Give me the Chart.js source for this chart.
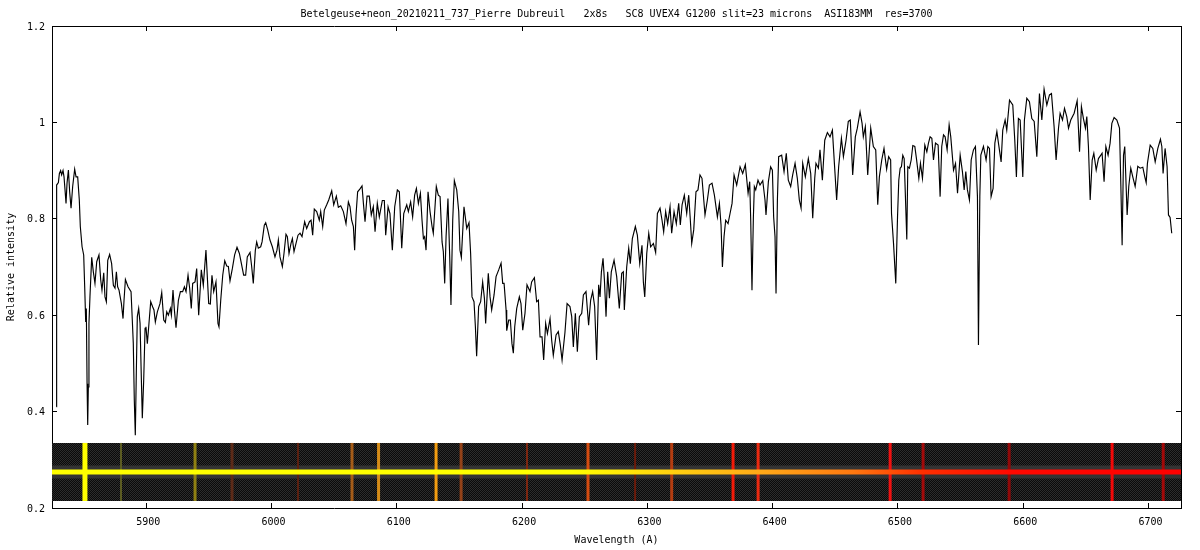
<!DOCTYPE html>
<html>
<head>
<meta charset="utf-8">
<style>html,body{margin:0;padding:0;background:#fff}canvas{display:block}</style>
<script src="https://cdn.jsdelivr.net/npm/chart.js@4/dist/chart.umd.min.js"></script>
</head>
<body>
<canvas id="c" width="1200" height="550"></canvas>
<script>
const titleText = "Betelgeuse+neon_20210211_737_Pierre Dubreuil   2x8s   SC8 UVEX4 G1200 slit=23 microns  ASI183MM  res=3700";
const xTitle = "Wavelength (A)";
const yTitle = "Relative intensity";
const xTickValues = [5900,6000,6100,6200,6300,6400,6500,6600,6700];
const yTickValues = [0.2,0.4,0.6,0.8,1,1.2];
const xRange = [5824.7,6726];
const yRange = [0.2,1.2];

const wavelength = [
5828.2,5828.4,5829.8,5830.6,5831.6,5832.4,5833.5,5834.3,5835.1,5835.9,5836.7,5837.8,5838.8,5839.9,5841.2,5842.8,5843.9,5845.2,5846.5,5847.3,
5848.7,5850.0,5850.8,5851.6,5852.1,5852.7,5853.2,5853.7,5854.2,5855.0,5856.4,5857.7,5859.0,5860.4,5862.2,5863.6,5864.6,5866.0,5867.0,5868.1,
5869.2,5870.7,5872.3,5873.7,5875.0,5876.1,5877.1,5878.2,5880.1,5881.4,5882.2,5883.3,5885.4,5887.8,5888.8,5889.6,5890.4,5891.2,5892.0,5892.8,
5893.9,5895.0,5895.8,5896.8,5897.9,5899.0,5899.7,5900.8,5901.9,5903.5,5905.1,5906.1,5907.2,5908.8,5910.9,5912.3,5913.9,5915.2,5916.3,5917.6,
5919.2,5920.0,5921.3,5922.4,5923.7,5925.6,5927.2,5929.0,5930.4,5931.7,5933.3,5934.6,5935.9,5937.0,5938.9,5940.2,5941.8,5943.9,5945.5,5947.6,
5949.8,5951.1,5952.4,5953.8,5955.6,5957.2,5958.0,5959.4,5961.0,5962.6,5964.2,5965.5,5966.8,5968.7,5970.5,5972.4,5974.3,5975.9,5977.7,5979.3,
5980.6,5982.8,5984.1,5985.4,5987.0,5988.1,5989.4,5991.3,5992.4,5994.2,5995.3,5996.9,5998.7,6000.6,6002.7,6004.3,6005.4,6006.7,6008.6,6009.9,
6011.5,6012.6,6013.9,6015.5,6016.6,6017.9,6019.5,6021.1,6022.7,
6024.3,6026.4,6028.0,6030.2,6031.5,6032.8,6034.1,6036.0,6038.1,6039.2,6040.8,6042.1,6044.0,6045.6,6048.0,6049.6,6051.7,6053.3,6055.2,6057.3,
6059.4,6061.3,6062.6,6063.9,6065.3,6066.3,6067.4,6068.7,6070.6,6072.2,6073.3,6074.6,6076.2,6078.0,6079.6,6081.2,6082.6,6084.4,6086.0,6088.4,
6090.0,6091.1,6093.0,6094.5,6096.4,6098.3,6100.4,6102.0,6103.9,6105.5,6107.9,6109.2,6111.0,6112.6,6114.2,6115.6,6117.2,6118.8,6120.1,6121.2,
6122.2,6123.3,6124.9,6126.5,6128.1,6129.1,6131.5,6133.1,6134.5,6136.1,6137.1,6138.2,6139.3,6140.8,6142.2,6143.2,6144.6,6145.9,6147.8,6149.4,
6150.4,6151.5,6153.6,6155.8,6157.6,6158.9,6160.0,6161.6,6162.7,6163.7,6165.3,6166.9,6168.5,6169.9,6170.9,6173.0,6174.4,6175.7,6177.6,6179.2,
6181.3,6183.2,6184.5,6185.6,6187.2,6187.7,6189.3,6190.6,6191.9,6193.0,6194.1,6195.7,6197.8,6199.1,6200.5,6202.3,6203.9,6206.3,6207.6,6209.8,
6211.6,6213.0,6214.3,6215.9,6217.2,6218.8,6220.2,6222.3,6223.6,6224.9,6227.1,6228.9,6230.5,6231.9,6234.2,6235.9,6238.2,6239.6,6240.9,6242.5,
6244.1,6245.7,6247.6,6248.9,6251.0,6253.1,6254.7,6256.3,6257.9,6259.5,6261.1,
6262.2,6263.3,6264.6,6265.7,6267.0,6268.3,6269.7,6271.2,6273.4,6275.5,6277.6,6279.5,6280.8,6281.6,6283.5,6285.1,6286.4,6288.0,6290.4,6292.0,
6293.9,6295.7,6296.8,6297.9,6299.5,6301.1,6302.6,6304.8,6306.6,6308.0,6310.1,6311.7,6313.0,6314.6,6316.2,6318.1,6319.4,6321.3,6323.1,6325.0,
6326.3,6327.7,6329.5,6331.4,6333.0,6334.3,6335.4,6337.0,6338.8,6340.4,6342.0,6343.6,6346.0,6347.9,6349.5,6351.6,6353.5,6355.9,6357.5,6358.8,
6359.9,6361.2,6362.5,6364.4,6366.0,6367.6,6369.2,6371.3,6374.0,6376.1,6378.2,6380.4,6381.7,6382.5,6383.5,6384.6,6385.4,6386.5,6388.3,6389.9,
6392.1,6393.9,6394.7,6396.6,6398.4,6399.8,6400.8,6401.9,6402.7,6403.8,6404.8,6407.2,6409.1,6410.9,6412.5,6414.4,6416.0,6417.9,6419.7,6421.3,
6422.7,6424.0,6426.1,6428.5,6430.4,6432.0,6433.6,6434.6,6436.5,6437.8,6439.7,6441.6,6443.7,6445.8,6447.7,6449.3,6451.1,6452.7,6454.9,6456.5,
6458.6,6460.4,6462.0,6463.9,6466.0,6467.6,6469.8,6471.4,6472.4,6474.0,6475.9,6478.3,6480.4,6482.3,6483.9,6485.2,6487.1,6488.9,6491.0,6492.6,
6494.2,
6494.9,6496.5,6498.3,6499.7,6500.7,6501.8,6502.8,6503.9,6505.0,6506.0,6507.1,6507.9,6509.2,6510.6,6511.9,6513.5,6514.8,6516.7,6518.0,6519.6,
6521.5,6523.1,6524.4,6525.7,6527.1,6528.4,6530.0,6532.1,6533.7,6535.0,6536.4,6537.7,6539.3,6540.9,6542.2,6544.4,6546.0,6547.6,6549.7,6551.5,
6552.9,6554.2,6555.5,6557.1,6558.5,6560.3,6561.9,6563.5,6564.3,6565.4,6566.2,6568.3,6570.4,6571.8,6573.1,6574.4,6576.0,6577.4,6579.0,6580.5,
6582.4,6583.7,6585.6,6586.9,6589.1,6591.7,6593.3,6594.6,6596.2,6597.6,6599.7,6601.0,6602.9,6605.0,6606.9,6608.8,6610.9,6613.0,6614.9,6616.7,
6618.9,6621.0,6622.6,6624.7,6626.3,6628.2,6629.5,6631.4,6633.0,6634.8,6636.2,6638.0,6640.7,6643.1,6645.0,6646.5,6648.1,6649.7,6650.8,6652.1,
6653.5,6655.1,6656.4,6658.3,6660.1,6662.0,6663.0,6664.6,6666.0,6667.8,6669.4,6670.8,6672.6,6674.8,6676.9,6678.0,6679.0,6680.1,6681.1,6683.0,
6684.3,6685.9,6687.5,6689.4,6691.5,6693.4,6695.5,6697.1,6698.2,6699.2,6701.4,6703.5,6705.4,6707.5,6709.6,6710.7,6711.7,6713.3,6714.9,6716.0,
6717.3,6718.6
];

const intensity = [
.410,.870,.875,.894,.900,.891,.900,.887,.860,.832,.874,.901,.856,.822,.867,.903,.887,.887,.839,.784,
.742,.725,.659,.586,.614,.458,.372,.451,.583,.638,.720,.690,.666,.711,.725,.673,.652,.688,.638,.628,
.714,.726,.707,.662,.656,.690,.659,.652,.624,.593,.631,.674,.659,.649,.590,.541,.424,.351,.479,.597,
.614,.583,.493,.386,.465,.573,.576,.541,.576,.628,.617,.611,.586,.607,.624,.647,.590,.585,.607,.600,
.614,.600,.652,.611,.574,.631,.649,.649,.659,.649,.683,.656,.614,.666,.669,.697,.600,.694,.662,.735,
.624,.623,.683,.649,.669,.583,.576,.631,.683,.713,.702,.701,.671,.697,.725,.741,.728,.707,.683,.683,
.721,.730,.701,.666,.734,.752,.739,.742,.752,.787,.792,.777,.756,.742,.721,.735,.756,.721,.701,.728,
.768,.763,.728,.749,.759,.732,.749,.766,.770,
.763,.794,.780,.794,.797,.766,.820,.815,.797,.815,.784,.818,.829,.839,.858,.829,.847,.824,.827,.815,
.790,.835,.825,.797,.784,.735,.808,.856,.862,.868,.832,.794,.847,.847,.808,.825,.773,.832,.804,.838,
.838,.766,.825,.811,.735,.825,.860,.856,.739,.811,.829,.815,.835,.804,.849,.863,.832,.853,.797,.759,
.763,.735,.856,.815,.784,.770,.867,.849,.846,.752,.732,.666,.763,.842,.721,.621,.797,.879,.860,.815,
.735,.720,.825,.780,.792,.728,.638,.628,.576,.515,.618,.628,.669,.635,.583,.687,.638,.611,.642,.680,
.694,.708,.666,.666,.611,.568,.590,.590,.541,.521,.576,.614,.638,.624,.569,.604,.663,.649,.669,.678,
.628,.631,.555,.555,.507,.583,.562,.593,.548,.517,.559,.566,.538,.507,.564,.624,.618,.597,.534,.604,
.524,.597,.604,.642,.649,.579,.631,.649,.618,.507,.663,
.638,.690,.718,.673,.597,.690,.635,.690,.714,.680,.614,.687,.690,.611,.700,.739,.707,.759,.784,.766,
.707,.745,.669,.638,.728,.770,.742,.749,.730,.811,.822,.797,.773,.815,.790,.825,.770,.815,.790,.832,
.787,.829,.849,.811,.849,.797,.749,.777,.856,.860,.891,.884,.808,.839,.870,.874,.849,.804,.832,.787,
.700,.763,.797,.790,.811,.832,.891,.870,.908,.894,.912,.853,.877,.797,.652,.801,.867,.860,.880,.870,
.879,.839,.808,.877,.908,.901,.804,.763,.645,.839,.929,.932,.898,.936,.880,.867,.891,.915,.884,.839,
.822,.915,.887,.925,.894,.801,.884,.915,.905,.943,.880,.963,.979,.970,.984,.915,.839,.908,.967,.929,
.963,1.002,1.005,.891,.970,.988,1.022,.998,.970,.991,.891,.988,.950,.943,.829,.887,.922,.946,.903,.929,
.922,
.811,.749,.666,.804,.880,.905,.908,.932,.925,.846,.757,.908,.905,.922,.952,.950,.925,.884,.915,.884,
.953,.939,.957,.970,.967,.922,.957,.953,.846,.950,.974,.970,.943,.995,.970,.901,.915,.853,.932,.898,
.860,.898,.860,.839,.922,.943,.950,.846,.538,.846,.932,.950,.922,.950,.946,.846,.863,.957,.981,.953,
.918,.984,1.005,.984,1.046,1.036,.963,.887,1.008,1.005,.887,1.005,1.050,1.043,1.008,1.002,.929,1.060,1.005,1.069,
1.036,1.057,1.060,.991,.922,.988,1.019,1.005,1.029,1.012,.988,1.005,1.019,1.045,.939,1.033,1.008,.988,1.012,.950,
.839,.922,.936,.901,.925,.932,.936,.877,.950,.932,.957,.998,1.010,1.005,.988,.867,.745,.932,.950,.808,
.867,.905,.887,.867,.909,.905,.907,.887,.875,.915,.953,.946,.918,.946,.965,.950,.894,.946,.908,.808,
.803,.770
];

// Calibration strip: intensity band limits and the neon emission lines seen in it
const stripLimits = [0.2145,0.335];
const stripCentre = 0.2747;
const neonWavelengths = [5851.0,5879.8,5938.9,5968.4,6021.1,6064.2,6085.4,6131.3,6151.3,6203.9,6252.6,6290.2,6319.4,6368.4,6388.4,6493.8,6520.1,6588.8,6671.0,6711.8];
const neonColors = ["#ffff00","#5c5c22","#8f8012","#5c2a18","#5a2010","#a65c18","#d68c18","#f29c10","#944218","#7c2610","#d44c10","#6a1a0a","#b43c10","#f21a08","#ea2a10","#f21010","#a20a0a","#920808","#f20808","#a20808"];
const neonWidths = [5,2,3,3,2,3,3,3,3,2,3,2,3,3,3,3,3,3,3,3];

const font = {family:"'DejaVu Sans Mono', monospace", size:10, weight:"normal"};
Chart.defaults.font = font;
Chart.defaults.color = "#000";

// dithered dark texture of the strip
const tile = document.createElement("canvas");
tile.width = 4; tile.height = 4;
const tc = tile.getContext("2d");
tc.fillStyle = "#0a0a0a"; tc.fillRect(0,0,4,4);
tc.fillStyle = "#2c2c2c";
[[0,0],[2,0],[1,1],[3,1],[0,2],[2,2],[1,3],[3,3]].forEach(p=>tc.fillRect(p[0],p[1],1,1));
const stripPattern = document.createElement("canvas").getContext("2d").createPattern(tile,"repeat");

function bandColor(ctx){
  const area = ctx.chart.chartArea;
  if(!area) return "#ffff00";
  const g = ctx.chart.ctx.createLinearGradient(area.left,0,area.right,0);
  g.addColorStop(0,"#ffff00"); g.addColorStop(0.46,"#ffff00"); g.addColorStop(0.55,"#ffd010");
  g.addColorStop(0.63,"#ffa818"); g.addColorStop(0.71,"#ff7810"); g.addColorStop(0.77,"#ff3000");
  g.addColorStop(0.85,"#ff0800"); g.addColorStop(1,"#ff0000");
  return g;
}

const datasets = [
  {label:"spectrum", data:wavelength.map((x,i)=>({x,y:intensity[i]})), borderColor:"#000", borderWidth:1.15, pointRadius:0, tension:0, fill:false, order:0},
  {label:"band", data:xRange.map(x=>({x,y:stripCentre})), borderColor:bandColor, borderWidth:5, pointRadius:0, fill:false, order:1},
].concat(neonWavelengths.map((w,i)=>({
  label:"neon "+w, data:stripLimits.map(y=>({x:w,y})), borderColor:neonColors[i], borderWidth:neonWidths[i], pointRadius:0, fill:false, order:2, borderCapStyle:"butt"
}))).concat([
  {label:"halo", data:xRange.map(x=>({x,y:stripCentre})), borderColor:"#333", borderWidth:13, pointRadius:0, fill:false, order:3},
  {label:"strip", data:xRange.map(x=>({x,y:stripLimits[1]})), borderColor:"rgba(0,0,0,0)", borderWidth:0, pointRadius:0, backgroundColor:stripPattern, fill:{value:stripLimits[0]}, order:4}
]);

function axisBase(vals){
  return {
    type:"linear",
    afterBuildTicks:s=>{s.ticks = vals.map(v=>({value:v}));},
    grid:{drawOnChartArea:false, drawTicks:true, tickLength:-5, color:"#000", lineWidth:1},
    border:{display:true,color:"#000",width:1}
  };
}

new Chart(document.getElementById("c"),{
  type:"line",
  data:{datasets},
  options:{
    responsive:false, animation:false, devicePixelRatio:1,
    layout:{padding:0},
    plugins:{
      legend:{display:false}, tooltip:{enabled:false},
      title:{display:true, text:titleText, fullSize:false, font, color:"#000", padding:{top:8,bottom:0}}
    },
    scales:{
      x:Object.assign(axisBase(xTickValues),{
        position:"bottom", min:xRange[0], max:xRange[1],
        ticks:{callback:v=>String(v), maxRotation:0, autoSkip:false, padding:13, labelOffset:2, font, color:"#000"},
        title:{display:true,text:xTitle,font,color:"#000",padding:{top:0,bottom:4}},
        afterFit:s=>{s.height=42;}
      }),
      xTop:Object.assign(axisBase(xTickValues),{
        axis:"x", position:"top", min:xRange[0], max:xRange[1],
        ticks:{display:false},
        afterFit:s=>{s.height=6;}
      }),
      y:Object.assign(axisBase(yTickValues),{
        position:"left", min:yRange[0], max:yRange[1],
        ticks:{callback:v=>String(v), autoSkip:false, padding:12, labelOffset:1, font, color:"#000"},
        title:{display:true,text:yTitle,font,color:"#000",padding:{top:5,bottom:0}},
        afterFit:s=>{s.width=52;}
      }),
      yRight:Object.assign(axisBase(yTickValues),{
        axis:"y", position:"right", min:yRange[0], max:yRange[1],
        ticks:{display:false},
        afterFit:s=>{s.width=19;}
      })
    }
  }
});
</script>
</body>
</html>
